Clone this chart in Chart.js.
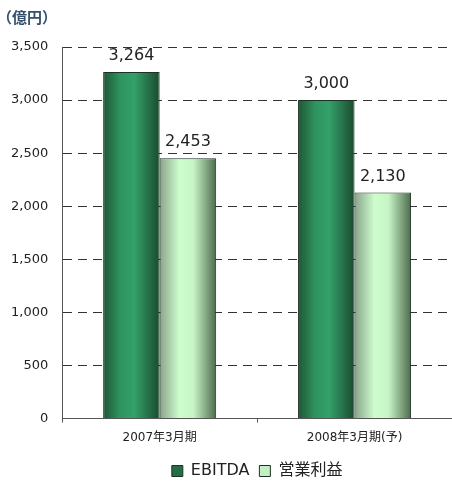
<!DOCTYPE html>
<html>
<head>
  <title>EBITDA / 営業利益</title>
  <script src="https://cdn.jsdelivr.net/npm/chart.js@4.4.0/dist/chart.umd.min.js"></script>
  <style>
    html, body { margin: 0; padding: 0; background: #fff; }
    .chart-container { position: relative; width: 452px; height: 481px; }
  </style>
</head>
<body>
  <div class="chart-container">
    <canvas id="chart"></canvas>
  </div>

  <script>
    // data
    var categories = ["2007年3月期", "2008年3月期(予)"];
    var ebitda = [3264, 3000];
    var operatingIncome = [2453, 2130];
    var seriesNames = ["EBITDA", "営業利益"];
    var unitLabel = "（億円）";

    var FONT = "'DejaVu Sans', 'Noto Sans CJK JP', sans-serif";
    var JP_FONT = "'Noto Sans CJK JP', sans-serif";

    // horizontal gradients for each bar, like the cylinder look in the picture
    var gradientStops = [
      [[0, "#1f5636"], [0.3, "#2f935f"], [0.55, "#34a06a"], [1, "#1a4a2e"]],
      [[0, "#8aa38a"], [0.35, "#cdfdcd"], [0.6, "#c6f4c6"], [1, "#4d6a4d"]]
    ];

    var barGradients = {
      id: "barGradients",
      beforeDatasetsDraw: function(chart) {
        var ctx = chart.ctx;
        chart.data.datasets.forEach(function(ds, di) {
          var meta = chart.getDatasetMeta(di);
          meta.data.forEach(function(el) {
            var left = el.x - el.width / 2;
            var g = ctx.createLinearGradient(left, 0, left + el.width, 0);
            gradientStops[di].forEach(function(s) { g.addColorStop(s[0], s[1]); });
            el.options = Object.assign({}, el.options, { backgroundColor: g });
          });
        });
      }
    };

    // value labels above bars
    var valueLabels = {
      id: "valueLabels",
      afterDatasetsDraw: function(chart) {
        var ctx = chart.ctx;
        ctx.save();
        ctx.font = "16px " + FONT;
        ctx.fillStyle = "#222";
        ctx.textAlign = "center";
        ctx.textBaseline = "bottom";
        chart.data.datasets.forEach(function(ds, di) {
          var meta = chart.getDatasetMeta(di);
          meta.data.forEach(function(el, i) {
            ctx.fillText(ds.data[i].toLocaleString("en-US"), el.x, el.y - 8);
          });
        });
        ctx.restore();
      }
    };

    // the legend in the picture is centred under the plot, not the canvas
    var legendUnderPlot = {
      id: "legendUnderPlot",
      afterLayout: function(chart) {
        chart.legend.left = chart.chartArea.left;
        chart.legend.right = chart.chartArea.right;
      }
    };

    var ctx = document.getElementById("chart").getContext("2d");
    var chart = new Chart(ctx, {
      type: "bar",
      data: {
        labels: categories,
        datasets: [{
          label: seriesNames[0],
          data: ebitda,
          backgroundColor: "#256e45",
          borderColor: "#1c3324",
          borderWidth: 1
        }, {
          label: seriesNames[1],
          data: operatingIncome,
          backgroundColor: "#c4eec4",
          borderColor: "#1c3324",
          borderWidth: 1
        }]
      },
      options: {
        responsive: true,
        maintainAspectRatio: false,
        animation: false,
        layout: { padding: { left: -3, right: -8, top: 0, bottom: -8 } },
        datasets: { bar: { categoryPercentage: 0.58, barPercentage: 1 } },
        scales: {
          x: {
            grid: { display: true, drawOnChartArea: false, offset: true, color: "#555", tickLength: 4 },
            border: { display: true, color: "#555" },
            ticks: { color: "#222", font: { family: FONT, size: 12 }, padding: 8 }
          },
          y: {
            min: 0,
            max: 3500,
            grid: {
              drawTicks: false,
              color: function(c) { return (c.tick && c.tick.value === 0) ? "rgba(0,0,0,0)" : "#333"; }
            },
            border: { display: true, color: "#555", dash: [9, 6] },
            ticks: {
              stepSize: 500,
              color: "#222",
              padding: 14,
              font: { family: FONT, size: 13 },
              callback: function(v) { return v.toLocaleString("en-US"); }
            }
          }
        },
        plugins: {
          title: {
            display: true,
            text: unitLabel,
            align: "start",
            color: "#34506e",
            font: { family: JP_FONT, size: 15, weight: "bold" },
            padding: { top: 8, bottom: 21 }
          },
          legend: {
            position: "bottom",
            labels: {
              boxWidth: 11,
              boxHeight: 11,
              color: "#222",
              padding: 10,
              font: { family: FONT, size: 16 }
            }
          },
          tooltip: { enabled: false }
        }
      },
      plugins: [barGradients, valueLabels, legendUnderPlot]
    });
  </script>
</body>
</html>
